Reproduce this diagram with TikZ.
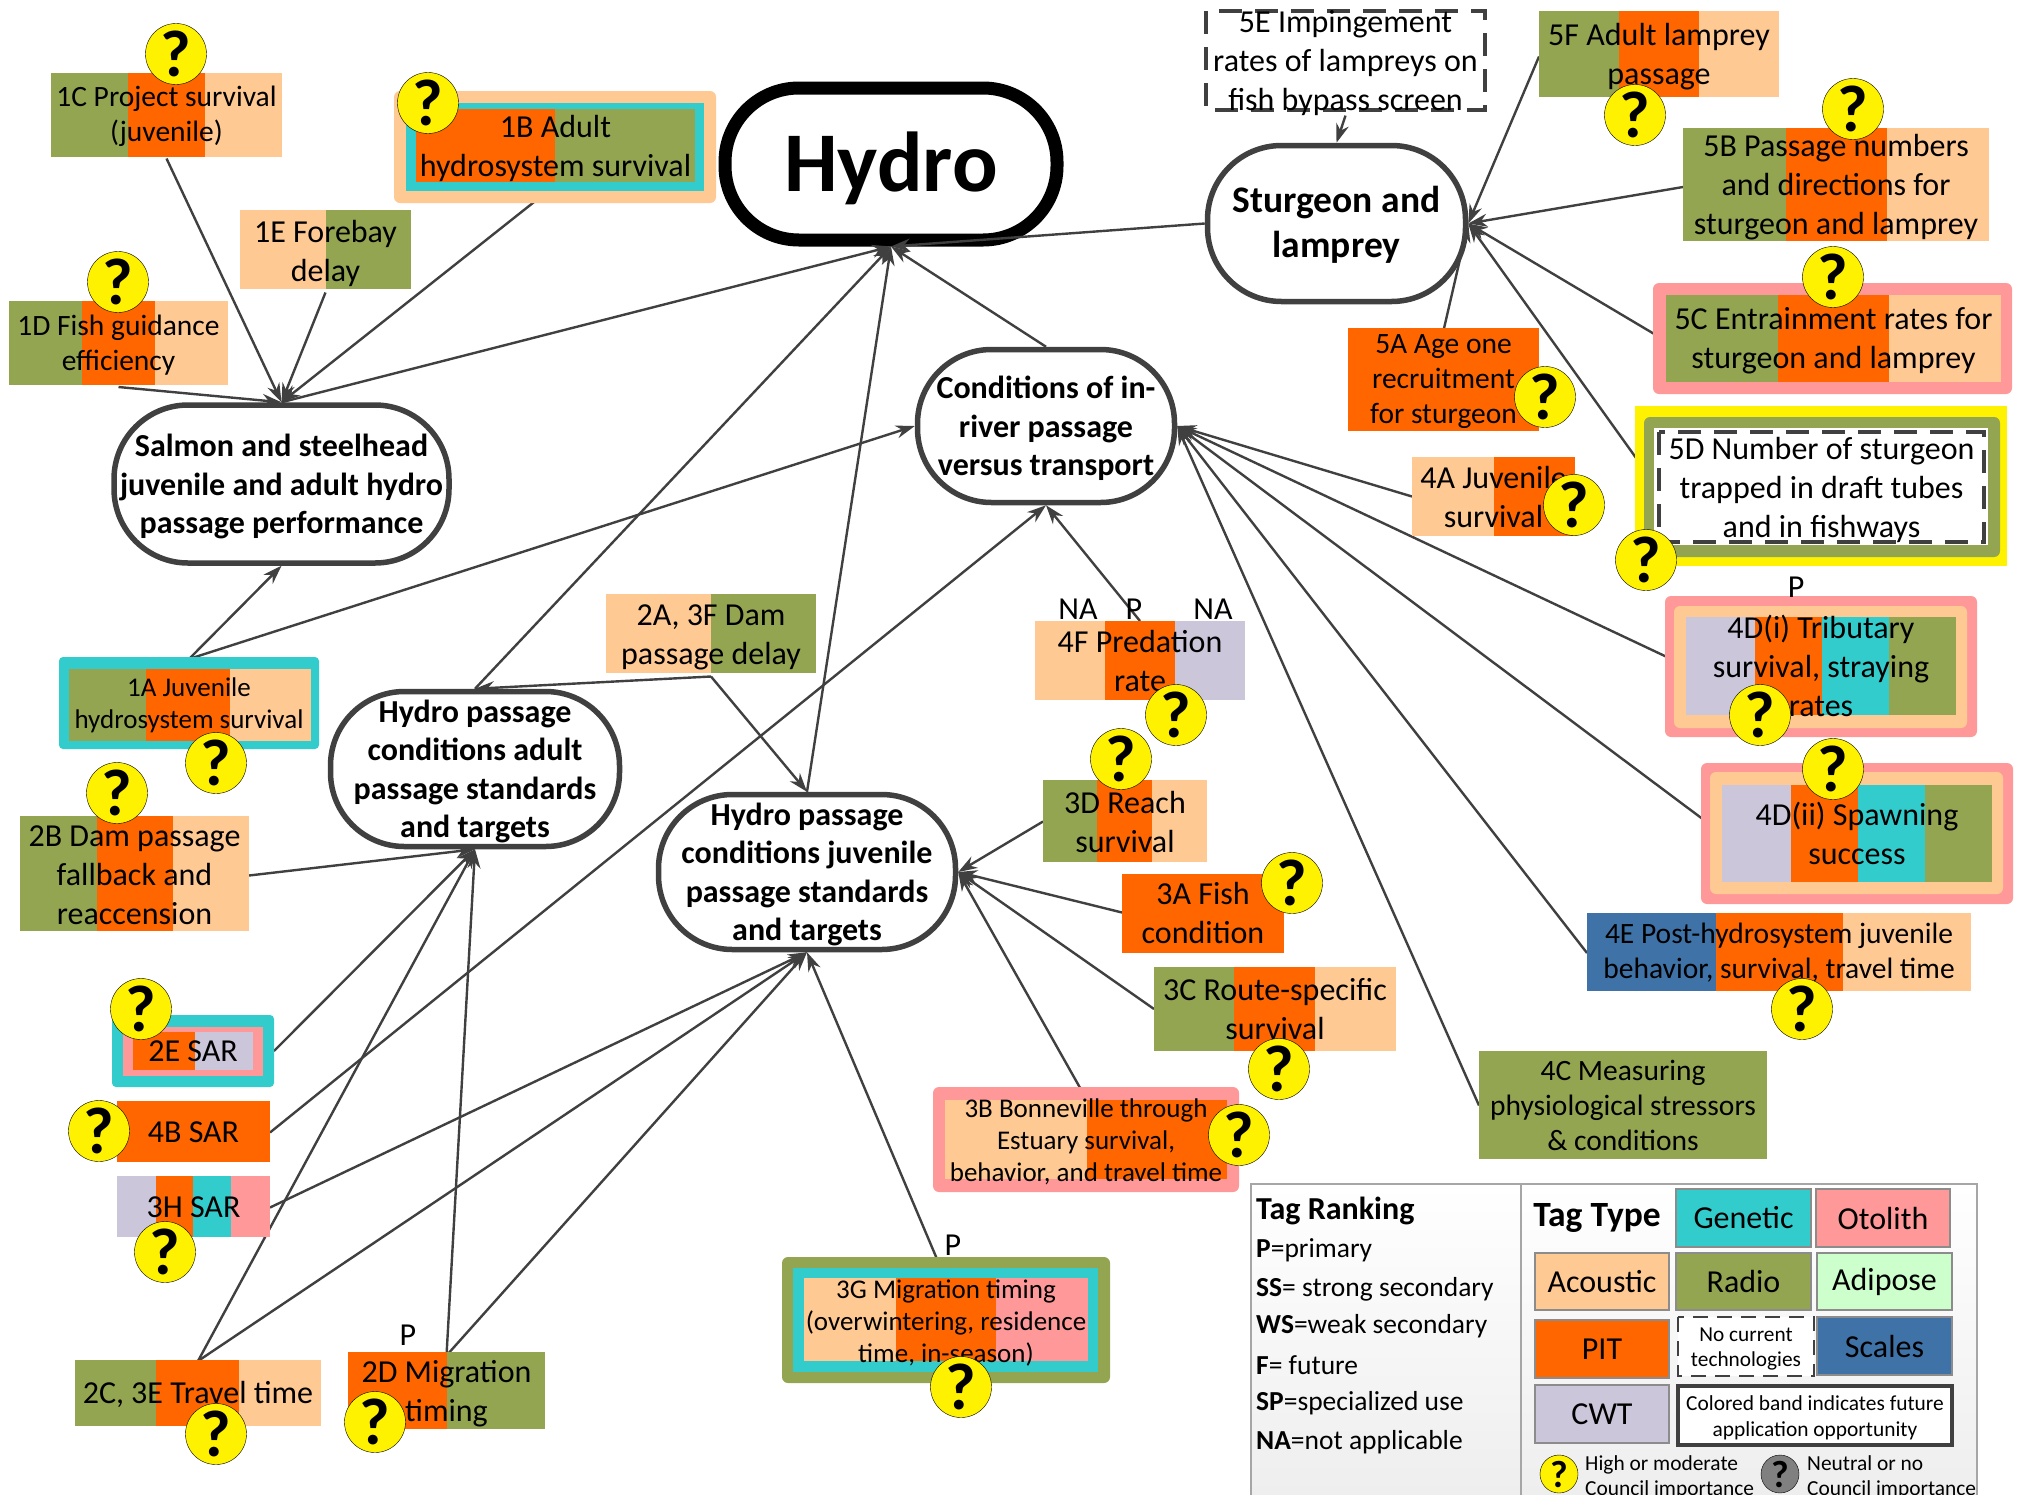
\documentclass[tikz,border=0pt]{standalone}
\usepackage{fontspec}
\setmainfont{Carlito}
\usetikzlibrary{arrows.meta}
\usetikzlibrary{backgrounds}
\definecolor{acoustic}{HTML}{FFC993}
\definecolor{radio}{HTML}{93A551}
\definecolor{pit}{HTML}{FF6600}
\definecolor{cwt}{HTML}{CCC6DB}
\definecolor{genetic}{HTML}{33CCCC}
\definecolor{otolith}{HTML}{FF9999}
\definecolor{adipose}{HTML}{CCFFCC}
\definecolor{scales}{HTML}{3F72A6}
\definecolor{linegray}{HTML}{404040}
\tikzset{
  topic/.style={draw=linegray,fill=white,line width=5.5pt,rounded corners=74pt,inner sep=0pt},
  topiclabel/.style={inner sep=0pt,align=center,font=\fontsize{32}{38.5}\selectfont\bfseries},
  tagbox/.style={inner sep=0pt,outer sep=0pt,align=center,font=\fontsize{32}{39}\selectfont},
  tagmid/.style={tagbox,font=\fontsize{29.5}{35}\selectfont},
  tagsmall/.style={tagbox,font=\fontsize{27}{32}\selectfont},
  boxsize/.style n args={2}{minimum width=#1pt,minimum height=#2pt},
  qmark/.style={circle,draw=black,fill=yellow,thin,inner sep=0pt,minimum size=61pt,font=\fontsize{66}{66}\selectfont\bfseries},
  qsmall/.style={qmark,minimum size=38pt,font=\fontsize{38}{38}\selectfont\bfseries},
  link/.style={draw=linegray,line width=2.4pt,-{Stealth[length=19pt,width=13pt]}},
  ranktext/.style={anchor=west,inner sep=0pt,font=\fontsize{27.5}{35}\selectfont},
  swatch/.style={draw=black!45,line width=1.5pt,inner sep=0pt,font=\fontsize{32}{35}\selectfont},
  frametag/.style={draw=linegray,line width=3.5pt,dash pattern=on 23pt off 13pt},
  marktext/.style={anchor=west,inner sep=0pt,align=left,font=\fontsize{21.4}{25}\selectfont},
}
\begin{document}
\begin{tikzpicture}[x=1pt,y=-1pt]
\clip[use as bounding box] (0,0) rectangle (2023,1494);

\begin{scope}[on background layer]
\node[topic,boxsize={332}{152},line width=13pt,draw=black] (hydro) at (891,164) {};
\end{scope}
\node[topiclabel,font=\fontsize{85}{90}\selectfont\bfseries] (hydrolabel) at (891,168) {Hydro};

\node[topic,boxsize={335}{158}] (salmon) at (281.5,484) {};
\node[topiclabel] (salmonlabel) at (281.5,486.5) {Salmon and steelhead\\juvenile and adult hydro\\passage performance};
\node[topic,boxsize={258}{156}] (sturgeon) at (1336.5,223.5) {};
\node[topiclabel,font=\fontsize{37.5}{45}\selectfont\bfseries] (sturgeonlabel) at (1336.5,225) {Sturgeon and\\lamprey};
\node[topic,boxsize={257}{153}] (inriver) at (1046,426) {};
\node[topiclabel] (inriverlabel) at (1046,428.5) {Conditions of in-\\river passage\\versus transport};
\node[topic,boxsize={289}{155}] (adultcond) at (475,769) {};
\node[topiclabel] (adultlabel) at (475,771.5) {Hydro passage\\conditions adult\\passage standards\\and targets};
\node[topic,boxsize={297}{155}] (juvcond) at (807,872) {};
\node[topiclabel] (juvlabel) at (807,874.5) {Hydro passage\\conditions juvenile\\passage standards\\and targets};

\fill[radio] (51,73) rectangle (128,157);
\fill[pit] (128,73) rectangle (205,157);
\fill[acoustic] (205,73) rectangle (282,157);
\node[tagmid,boxsize={231}{84}] (tagonec) at (166.5,116.5) {1C Project survival\\(juvenile)};

\fill[acoustic,rounded corners=6pt] (394,91) rectangle (716,203);
\fill[genetic] (406,103) rectangle (704,191);
\fill[pit] (416,109) rectangle (555,182);
\fill[radio] (555,109) rectangle (695,182);
\node[tagbox,boxsize={279}{73}] (tagoneb) at (555.5,148.5) {1B Adult\\hydrosystem survival};

\fill[acoustic] (240,210) rectangle (326,289);
\fill[radio] (326,210) rectangle (411,289);
\node[tagbox,boxsize={171}{79}] (tagonee) at (325.5,253) {1E Forebay\\delay};

\fill[radio] (9,301) rectangle (82,385);
\fill[pit] (82,301) rectangle (155,385);
\fill[acoustic] (155,301) rectangle (228,385);
\node[tagmid,boxsize={219}{84}] (tagoned) at (118.5,345) {1D Fish guidance\\efficiency};

\fill[genetic,rounded corners=4pt] (59,657) rectangle (319,749);
\fill[radio] (69,669) rectangle (146,741);
\fill[pit] (146,669) rectangle (230,741);
\fill[acoustic] (230,669) rectangle (311,741);
\node[tagsmall,boxsize={260}{92}] (tagonea) at (189,705) {1A Juvenile\\hydrosystem survival};

\fill[acoustic] (606,594) rectangle (711,673);
\fill[radio] (711,594) rectangle (816,673);
\node[tagbox,boxsize={210}{79}] (tagtwoa) at (711,637) {2A, 3F Dam\\passage delay};

\fill[radio] (20,816) rectangle (97,931);
\fill[pit] (97,816) rectangle (173,931);
\fill[acoustic] (173,816) rectangle (249,931);
\node[tagbox,boxsize={229}{115}] (tagtwob) at (134.5,875.5) {2B Dam passage\\fallback and\\reaccension};

\fill[genetic,rounded corners=4pt] (112,1015) rectangle (274,1087);
\fill[otolith] (123,1027) rectangle (263,1076);
\fill[pit] (133,1032) rectangle (195,1070);
\fill[cwt] (195,1032) rectangle (253,1070);
\node[tagbox,boxsize={162}{72}] (tagtwoe) at (193,1051) {2E SAR};

\fill[pit] (117,1101) rectangle (270,1162);
\node[tagbox,boxsize={153}{61}] (tagfourb) at (193.5,1132.5) {4B SAR};

\fill[cwt] (117,1176) rectangle (156,1237);
\fill[pit] (156,1176) rectangle (193,1237);
\fill[genetic] (193,1176) rectangle (231,1237);
\fill[otolith] (231,1176) rectangle (270,1237);
\node[tagbox,boxsize={153}{61}] (tagthreeh) at (193.5,1207.5) {3H SAR};

\fill[radio] (75,1360) rectangle (156,1426);
\fill[pit] (156,1360) rectangle (239,1426);
\fill[acoustic] (239,1360) rectangle (321,1426);
\node[tagbox,boxsize={246}{66}] (tagtwoc) at (198,1394) {2C, 3E Travel time};

\fill[pit] (348,1352) rectangle (447,1429);
\fill[radio] (447,1352) rectangle (545,1429);
\node[tagbox,boxsize={197}{77}] (tagtwod) at (446.5,1394) {2D Migration\\timing};
\node[tagbox] (ranktwod) at (408,1335) {P};

\fill[radio,rounded corners=6pt] (782,1257) rectangle (1110,1383);
\fill[genetic] (793,1268) rectangle (1098,1372);
\fill[acoustic] (804,1278) rectangle (896,1361);
\fill[pit] (896,1278) rectangle (996,1361);
\fill[otolith] (996,1278) rectangle (1088,1361);
\node[tagsmall,boxsize={284}{83}] (tagthreeg) at (946,1323.5) {3G Migration timing\\(overwintering, residence\\time, in-season)};
\node[tagbox] (rankthreeg) at (953,1245) {P};

\fill[otolith,rounded corners=6pt] (933,1087) rectangle (1239,1192);
\fill[acoustic] (945,1100) rectangle (1087,1179);
\fill[pit] (1087,1100) rectangle (1227,1179);
\node[tagsmall,boxsize={282}{79}] (tagthreeb) at (1086,1141.5) {3B Bonneville through\\Estuary survival,\\behavior, and travel time};

\fill[radio] (1154,967) rectangle (1234,1051);
\fill[pit] (1234,967) rectangle (1315,1051);
\fill[acoustic] (1315,967) rectangle (1396,1051);
\node[tagbox,boxsize={242}{84}] (tagthreec) at (1275,1009) {3C Route-specific\\survival};

\fill[pit] (1122,874) rectangle (1284,953);
\node[tagbox,boxsize={162}{79}] (tagthreea) at (1203,912.5) {3A Fish\\condition};

\fill[radio] (1043,780) rectangle (1097,862);
\fill[pit] (1097,780) rectangle (1152,862);
\fill[acoustic] (1152,780) rectangle (1207,862);
\node[tagbox,boxsize={164}{82}] (tagthreed) at (1125,821.5) {3D Reach\\survival};

\fill[acoustic] (1035,621) rectangle (1105,700);
\fill[pit] (1105,621) rectangle (1175,700);
\fill[cwt] (1175,621) rectangle (1245,700);
\node[tagbox,boxsize={210}{79}] (tagfourf) at (1140,660.5) {4F Predation\\rate};
\node[tagbox] (rankfourfa) at (1078,609) {NA};
\node[tagbox] (rankfourfb) at (1134,609) {P};
\node[tagbox] (rankfourfc) at (1213,609) {NA};

\fill[acoustic] (1412,457) rectangle (1494,536);
\fill[pit] (1494,457) rectangle (1575,536);
\node[tagbox,boxsize={163}{79}] (tagfoura) at (1493.5,496.5) {4A Juvenile\\survival};

\fill[pit] (1348,328) rectangle (1539,431);
\node[tagmid,boxsize={191}{103}] (tagfivea) at (1443.5,382) {5A Age one\\recruitment\\for sturgeon};

\draw[frametag,fill=white] (1206,11) rectangle (1485,110);
\node[tagbox,boxsize={279}{99}] (tagfivee) at (1345.5,63) {5E Impingement\\rates of lampreys on\\fish bypass screen};

\fill[radio] (1539,11) rectangle (1619,97);
\fill[pit] (1619,11) rectangle (1699,97);
\fill[acoustic] (1699,11) rectangle (1779,97);
\node[tagbox,boxsize={240}{86}] (tagfivef) at (1659,56.5) {5F Adult lamprey\\passage};

\fill[radio] (1683,128) rectangle (1786,241);
\fill[pit] (1786,128) rectangle (1887,241);
\fill[acoustic] (1887,128) rectangle (1989,241);
\node[tagbox,boxsize={306}{113}] (tagfiveb) at (1836,187) {5B Passage numbers\\and directions for\\sturgeon and lamprey};

\fill[otolith,rounded corners=6pt] (1653,283) rectangle (2012,394);
\fill[radio] (1666,295) rectangle (1778,382);
\fill[pit] (1778,295) rectangle (1889,382);
\fill[acoustic] (1889,295) rectangle (2001,382);
\node[tagbox,boxsize={335}{87}] (tagfivec) at (1833.5,341) {5C Entrainment rates for\\sturgeon and lamprey};

\fill[yellow] (1635,406) rectangle (2007,566);
\fill[radio,rounded corners=6pt] (1644,417) rectangle (2000,557);
\fill[white] (1654,428) rectangle (1988,545);
\draw[frametag] (1659,432) rectangle (1984,542);
\node[tagbox,boxsize={325}{110}] (tagfived) at (1821.5,490) {5D Number of sturgeon\\trapped in draft tubes\\and in fishways};

\fill[otolith,rounded corners=6pt] (1665,596) rectangle (1977,737);
\fill[acoustic,rounded corners=6pt] (1674,606) rectangle (1967,728);
\fill[cwt] (1686,617) rectangle (1755,715);
\fill[pit] (1755,617) rectangle (1822,715);
\fill[genetic] (1822,617) rectangle (1889,715);
\fill[radio] (1889,617) rectangle (1956,715);
\node[tagbox,boxsize={270}{98}] (tagfourdi) at (1821,666) {4D(i) Tributary\\survival, straying\\rates};
\node[tagbox] (rankfourdi) at (1796,587) {P};

\fill[otolith,rounded corners=6pt] (1701,763) rectangle (2013,904);
\fill[acoustic,rounded corners=6pt] (1710,772) rectangle (2003,894);
\fill[cwt] (1722,785) rectangle (1791,882);
\fill[pit] (1791,785) rectangle (1858,882);
\fill[genetic] (1858,785) rectangle (1925,882);
\fill[radio] (1925,785) rectangle (1992,882);
\node[tagbox,boxsize={270}{97}] (tagfourdii) at (1857,833.5) {4D(ii) Spawning\\success};

\fill[scales] (1587,913) rectangle (1716,991);
\fill[pit] (1716,913) rectangle (1843,991);
\fill[acoustic] (1843,913) rectangle (1971,991);
\node[tagmid,boxsize={384}{78}] (tagfoure) at (1779,953) {4E Post-hydrosystem juvenile\\behavior, survival, travel time};

\fill[radio] (1479,1051) rectangle (1767,1159);
\node[tagmid,boxsize={288}{108}] (tagfourc) at (1623,1105.5) {4C Measuring\\physiological stressors\\\& conditions};

\begin{scope}[on background layer]
\draw[link] (tagonec.south) -- (salmon.north);
\draw[link] (tagonee.south) -- (salmon.north);
\draw[link] (tagoned.south) -- (salmon.north);
\draw[link] (tagoneb.south) -- (salmon.north);
\draw[link] (tagonea.north) -- (salmon.south);
\draw[link] (tagonea.north) -- (inriver.west);
\draw[link] (salmon.north) -- (hydro.south);
\draw[link] (adultcond.north) -- (hydro.south);
\draw[link] (juvcond.north) -- (hydro.south);
\draw[link] (inriver.north) -- (hydro.south);
\draw[link] (sturgeon.west) -- (hydro.south);
\draw[link] (tagtwoa.south) -- (adultcond.north);
\draw[link] (tagtwoa.south) -- (juvcond.north);
\draw[link] (tagtwob.east) -- (adultcond.south);
\draw[link] (tagtwoe.east) -- (adultcond.south);
\draw[link] (tagtwoc.north) -- (adultcond.south);
\draw[link] (tagtwod.north) -- (adultcond.south);
\draw[link] (tagtwoc.north) -- (juvcond.south);
\draw[link] (tagtwod.north) -- (juvcond.south);
\draw[link] (tagthreeh.east) -- (juvcond.south);
\draw[link] (tagthreeg.north) -- (juvcond.south);
\draw[link] (tagthreed.west) -- (juvcond.east);
\draw[link] (tagthreea.west) -- (juvcond.east);
\draw[link] (tagthreec.west) -- (juvcond.east);
\draw[link] (tagthreeb.north) -- (juvcond.east);
\draw[link] (tagfourb.east) -- (inriver.south);
\draw[link] (tagfourf.north) -- (inriver.south);
\draw[link] (tagfoura.west) -- (inriver.east);
\draw[link] (tagfourdi.west) -- (inriver.east);
\draw[link] (tagfourdii.west) -- (inriver.east);
\draw[link] (tagfoure.west) -- (inriver.east);
\draw[link] (tagfourc.west) -- (inriver.east);
\draw[link] (tagfivee.south) -- (sturgeon.north);
\draw[link] (tagfivef.west) -- (sturgeon.east);
\draw[link] (tagfiveb.west) -- (sturgeon.east);
\draw[link] (tagfivec.west) -- (sturgeon.east);
\draw[link] (tagfived.west) -- (sturgeon.east);
\draw[link] (tagfivea.north) -- (sturgeon.east);
\end{scope}

\node[qmark] (askonec) at (176,54) {?};
\node[qmark] (askoneb) at (428,103) {?};
\node[qmark] (askoned) at (118,282) {?};
\node[qmark] (askonea) at (216,763) {?};
\node[qmark] (asktwob) at (117,793) {?};
\node[qmark] (asktwoe) at (141,1009) {?};
\node[qmark] (askfourb) at (99,1131) {?};
\node[qmark] (askthreeh) at (165,1252) {?};
\node[qmark] (asktwoc) at (216,1434) {?};
\node[qmark] (asktwod) at (375,1422) {?};
\node[qmark] (askthreeg) at (961,1387) {?};
\node[qmark] (askthreeb) at (1239,1135) {?};
\node[qmark] (askthreec) at (1279,1069) {?};
\node[qmark] (askthreea) at (1292,883) {?};
\node[qmark] (askthreed) at (1121,759) {?};
\node[qmark] (askfourf) at (1176,715) {?};
\node[qmark] (askfoura) at (1574,505) {?};
\node[qmark] (askfivea) at (1545,397) {?};
\node[qmark] (askfivef) at (1635,115) {?};
\node[qmark] (askfiveb) at (1853,109) {?};
\node[qmark] (askfivec) at (1833,277) {?};
\node[qmark] (askfived) at (1646,560) {?};
\node[qmark] (askfourdi) at (1760,715) {?};
\node[qmark] (askfourdii) at (1833,769) {?};
\node[qmark] (askfoure) at (1802,1009) {?};

\draw[draw=black!35,line width=2pt,top color=white,bottom color=black!7] (1251,1184) rectangle (1521,1510);
\draw[draw=black!35,line width=2pt,top color=white,bottom color=black!7] (1521,1184) rectangle (1977,1510);

\node[ranktext,font=\fontsize{32}{35}\selectfont\bfseries] (rankhead) at (1256,1211) {Tag Ranking};
\node[ranktext] (rankp) at (1256,1250.5) {\textbf{P}=primary};
\node[ranktext] (rankss) at (1256,1289) {\textbf{SS}= strong secondary};
\node[ranktext] (rankws) at (1256,1326) {\textbf{WS}=weak secondary};
\node[ranktext] (rankf) at (1256,1365) {\textbf{F}= future};
\node[ranktext] (ranksp) at (1256,1403) {\textbf{SP}=specialized use};
\node[ranktext] (rankna) at (1256,1442) {\textbf{NA}=not applicable};

\node[ranktext,anchor=center,font=\fontsize{35.5}{35}\selectfont\bfseries] (typehead) at (1597,1218) {Tag Type};
\node[swatch,boxsize={135}{58},fill=genetic] (typegenetic) at (1743.5,1218) {Genetic};
\node[swatch,boxsize={134}{58},fill=otolith] (typeotolith) at (1883,1218) {Otolith};
\node[swatch,boxsize={134}{57},fill=acoustic] (typeacoustic) at (1602,1281.5) {Acoustic};
\node[swatch,boxsize={135}{57},fill=radio] (typeradio) at (1743.5,1281.5) {Radio};
\node[swatch,boxsize={135}{57},fill=adipose] (typeadipose) at (1884.5,1281.5) {Adipose};
\node[swatch,boxsize={134}{58},fill=pit] (typepit) at (1602,1349) {PIT};
\draw[frametag,line width=2.5pt,fill=white,dash pattern=on 15pt off 9pt] (1678,1317) rectangle (1814,1376);
\node[swatch,boxsize={136}{59},draw=none,align=center,font=\fontsize{21.3}{25}\selectfont] (typenone) at (1746,1349) {No current\\technologies};
\node[swatch,boxsize={135}{58},fill=scales] (typescales) at (1884.5,1346) {Scales};
\node[swatch,boxsize={134}{58},fill=cwt] (typecwt) at (1602,1414) {CWT};
\draw[draw=linegray,line width=4pt,fill=white] (1678,1386) rectangle (1952,1445);
\node[swatch,boxsize={274}{59},draw=none,align=center,font=\fontsize{21.4}{26}\selectfont] (typeband) at (1815,1418) {Colored band indicates future\\application opportunity};

\node[qsmall] (askhigh) at (1559,1474) {?};
\node[qsmall,fill=black!50] (askneutral) at (1780,1474) {?};
\node[marktext] (markhigh) at (1585,1477) {High or moderate\\Council importance};
\node[marktext] (markneutral) at (1807,1477) {Neutral or no\\Council importance};

\end{tikzpicture}
\end{document}
